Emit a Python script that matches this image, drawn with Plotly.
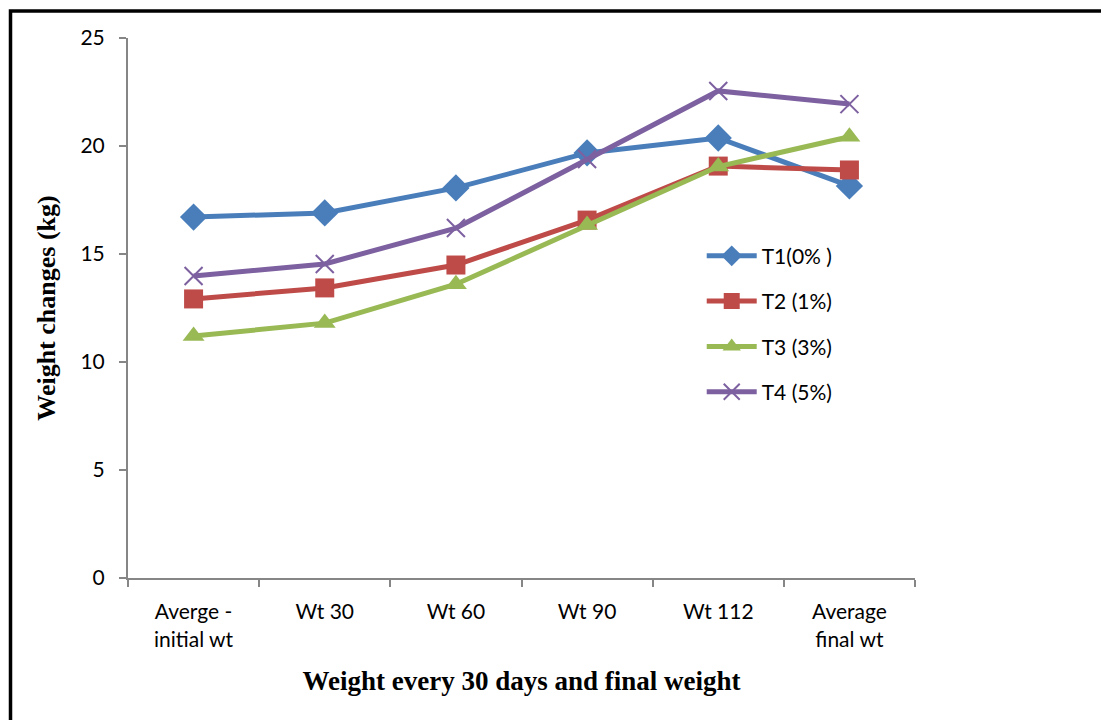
import plotly.graph_objects as go

categories = ["Averge -<br>initial wt", "Wt 30", "Wt 60", "Wt 90", "Wt 112", "Average<br>final wt"]
t1 = [16.71, 16.90, 18.06, 19.68, 20.37, 18.15]
t2 = [12.92, 13.43, 14.49, 16.57, 19.07, 18.89]
t3 = [11.20, 11.80, 13.60, 16.34, 19.05, 20.43]
t4 = [13.98, 14.54, 16.20, 19.40, 22.55, 21.94]
series_names = ["T1(0% )", "T2 (1%)", "T3 (3%)", "T4 (5%)"]
y_ticks = [0, 5, 10, 15, 20, 25]

colors = ["#4a7ebb", "#be4b48", "#98b954", "#7d60a0"]
symbols = ["diamond", "square", "triangle-up", "x-thin"]
sizes = [21, 19, 19, 18]

fig = go.Figure()
for i, (name, vals) in enumerate(zip(series_names, [t1, t2, t3, t4])):
    marker = dict(symbol=symbols[i], size=sizes[i], color=colors[i])
    if symbols[i] == "x-thin":
        marker["line"] = dict(width=2, color=colors[i])
    fig.add_trace(go.Scatter(
        x=categories, y=vals, name=name, mode="lines+markers",
        line=dict(color=colors[i], width=5), marker=marker, legendgroup=name,
    ))

fig.update_layout(
    width=1101, height=720,
    margin=dict(l=128, r=186, t=38, b=142, autoexpand=False),
    paper_bgcolor="white", plot_bgcolor="white",
    font=dict(family="Lato, 'Open Sans', sans-serif", size=21, color="black"),
    showlegend=True,
    legend=dict(x=0.729, y=0.634, xanchor="left", yanchor="top",
                font=dict(size=21, family="Lato, sans-serif"),
                itemwidth=50,
                tracegroupgap=15, bgcolor="rgba(0,0,0,0)"),
    xaxis=dict(
        type="category", tickson="boundaries",
        range=[-0.5, 5.5], showgrid=False, zeroline=False, automargin=False,
        showline=True, linecolor="#868686", linewidth=2,
        ticks="outside", ticklen=7, tickcolor="#868686", tickwidth=2,
        ticklabelstandoff=14,
        title=dict(text="<b>Weight every 30 days and final weight</b>",
                   font=dict(family="Liberation Serif, serif", size=27), standoff=22),
    ),
    yaxis=dict(
        range=[0, 25], tickvals=y_ticks, showgrid=False, zeroline=False, automargin=False,
        showline=True, linecolor="#868686", linewidth=2,
        ticks="outside", ticklen=7, tickcolor="#868686", tickwidth=2,
        ticklabelstandoff=10,
        title=dict(text="<b>Weight changes (kg)</b>",
                   font=dict(family="Liberation Serif, serif", size=26), standoff=17),
    ),
    shapes=[dict(type="rect", xref="paper", yref="paper",
                 x0=(10.5 - 128) / 787, x1=(1115 - 128) / 787,
                 y0=-(740 - 578) / 540, y1=1 + (578 - 11 - 540) / 540,
                 line=dict(color="black", width=3.5), layer="below")],
)
fig.write_html("out.html", config={"displayModeBar": False},
               post_script="document.body.style.margin='0';document.body.style.overflow='hidden';")
